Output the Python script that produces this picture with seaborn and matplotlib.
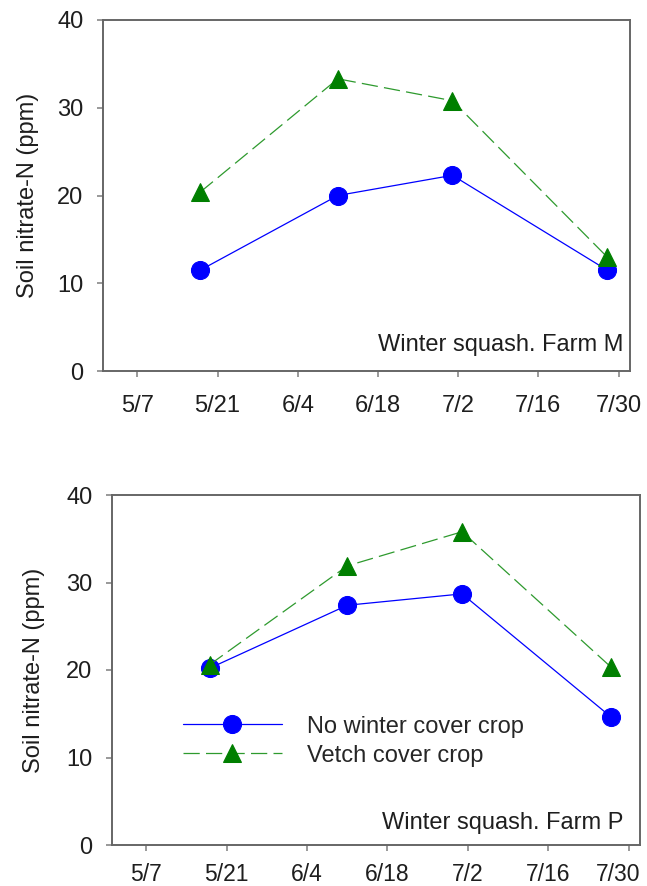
import matplotlib
matplotlib.use("Agg")
import matplotlib.pyplot as plt
from matplotlib.transforms import ScaledTranslation
import seaborn as sns
import pandas as pd
import numpy as np

# ---- data ----
dates_M = ["2000-05-18", "2000-06-11", "2000-07-01", "2000-07-28"]
none_M = [11.5, 20.0, 22.3, 11.5]
vetch_M = [20.4, 33.3, 30.8, 13.0]

dates_P = ["2000-05-18", "2000-06-11", "2000-07-01", "2000-07-27"]
none_P = [20.2, 27.4, 28.7, 14.6]
vetch_P = [20.6, 31.9, 35.8, 20.3]

tick_dates = ["2000-05-07", "2000-05-21", "2000-06-04", "2000-06-18",
              "2000-07-02", "2000-07-16", "2000-07-30"]
tick_labels = ["5/7", "5/21", "6/4", "6/18", "7/2", "7/16", "7/30"]
series_names = ["No winter cover crop", "Vetch cover crop"]
panel_titles = ["Winter squash. Farm M", "Winter squash. Farm P"]

sns.set_style("white")
plt.rcParams['font.family'] = ['Liberation Sans', 'DejaVu Sans']

FS = 17
TXT = "#1e1e1e"

fig = plt.figure(figsize=(6.47, 8.86), dpi=100)
W, H = 647, 886
ax1 = fig.add_axes([103 / W, 1 - 371 / H, (630 - 103) / W, (371 - 20) / H])
ax2 = fig.add_axes([112 / W, 1 - 845 / H, (640 - 112) / W, (845 - 495) / H])

def doy(s):
    return pd.Timestamp(s).dayofyear

panels = [
    (ax1, dates_M, none_M, vetch_M, panel_titles[0], 0.987, 0.058, -0.121, 13, FS),
    (ax2, dates_P, none_P, vetch_P, panel_titles[1], 0.968, 0.045, -0.127, 9, 16.5),
]

for ax, dts, none_v, vetch_v, title, tx, ty, ylx, xpad, xfs in panels:
    df = pd.DataFrame({
        "day": [doy(d) for d in dts] * 2,
        "value": list(none_v) + list(vetch_v),
        "treatment": [series_names[0]] * len(dts) + [series_names[1]] * len(dts),
    })
    d0 = df[df.treatment == series_names[0]]
    d1 = df[df.treatment == series_names[1]]
    sns.lineplot(data=d0, x="day", y="value", ax=ax, color="#0000FF",
                 linewidth=0.9, marker="o", markersize=13,
                 markeredgecolor="#0000FF", label=series_names[0],
                 legend=False)
    sns.lineplot(data=d1, x="day", y="value", ax=ax, color="#2E9A2E",
                 linewidth=0.9, marker="^", markersize=13,
                 label=series_names[1], legend=False)
    ln = ax.lines[-1]
    ln.set_dashes((13, 5))
    ln.set_markerfacecolor("#007F00")
    ln.set_markeredgecolor("#007F00")

    ax.set_xlim(doy("2000-05-01"), doy("2000-08-01"))
    ax.set_ylim(0, 40)
    ax.set_xticks([doy(t) for t in tick_dates])
    ax.set_xticklabels(tick_labels)
    ax.set_yticks([0, 10, 20, 30, 40])
    ax.tick_params(axis="both", direction="out", length=4, width=1.2,
                   color="#888888", labelsize=FS, labelcolor=TXT,
                   bottom=True, left=True, top=False, right=False)
    ax.tick_params(axis="x", pad=xpad, labelsize=xfs)
    ax.tick_params(axis="y", pad=10)
    ax.set_xlabel("")
    ax.set_ylabel("Soil nitrate-N (ppm)", fontsize=FS, color=TXT)
    ax.yaxis.set_label_coords(ylx, 0.5)
    for sp in ax.spines.values():
        sp.set_visible(True)
        sp.set_color("#666666")
        sp.set_linewidth(1.4)
    ax.text(tx, ty, title, transform=ax.transAxes, ha="right", va="baseline",
            fontsize=FS, color=TXT)

# keep the last bottom tick label inside the figure edge
last = ax2.get_xticklabels()[-1]
last.set_transform(last.get_transform() + ScaledTranslation(-0.1, 0, fig.dpi_scale_trans))

ax2.legend(loc="center left", bbox_to_anchor=(0.134, 0.297), frameon=False,
           fontsize=FS, handlelength=4.2, handletextpad=1.05,
           labelspacing=0.3, borderaxespad=0, borderpad=0)

fig.savefig("out.png", dpi=100)
